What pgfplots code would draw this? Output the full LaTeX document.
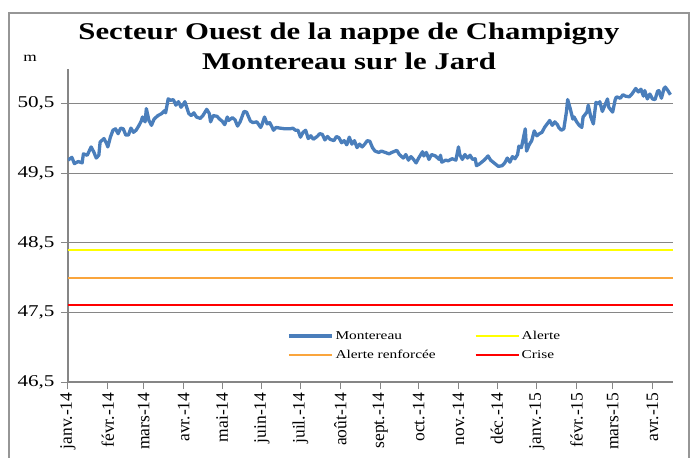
\documentclass[border=0pt]{standalone}
\usepackage{fontspec}
\setmainfont{Liberation Serif}[FakeStretch=1.28]
\newfontfamily\rotfont{Liberation Serif}
\usepackage{pgfplots}
\pgfplotsset{compat=1.18}

\definecolor{montblue}{RGB}{74,126,187}
\definecolor{alerteyellow}{RGB}{255,255,0}
\definecolor{renforcee}{RGB}{250,165,60}
\definecolor{crisered}{RGB}{255,0,0}
\definecolor{gridgray}{RGB}{134,134,134}
\definecolor{framegray}{RGB}{150,150,150}

\begin{document}
\begin{tikzpicture}
% picture box: 692 x 457, axis corner (68,382) in screen pixels
\useasboundingbox (-68pt,-75pt) rectangle (624pt,382pt);
\draw[framegray, line width=1.5pt] (-59pt,-80pt) -- (-59pt,369pt) -- (621pt,369pt) -- (621pt,-80pt);

\begin{axis}[
    scale only axis,
    width=605pt, height=313pt,
    xmin=0, xmax=471,
    ymin=46.5, ymax=51,
    axis x line*=bottom, axis y line*=left,
    axis line style={draw=gridgray, line width=1.2pt},
    ytick={46.5,47.5,48.5,49.5,50.5},
    ymajorgrids,
    major grid style={draw=gridgray, line width=1.1pt},
    tick style={draw=gridgray, line width=1pt},
    major tick length=7pt, tick align=outside,
    xtick={0,31,59,90,120,151,181,212,243,273,304,334,365,396,424,455},
    xticklabels={janv.-14,févr.-14,mars-14,avr.-14,mai-14,juin-14,juil.-14,août-14,sept.-14,oct.-14,nov.-14,déc.-14,janv.-15,févr.-15,mars-15,avr.-15},
    xticklabel style={rotate=90, anchor=east, font=\rotfont\fontsize{17.5}{19}\selectfont},
    yticklabel style={font=\fontsize{16.5}{18}\selectfont, xshift=-3pt},
    /pgf/number format/.cd, use comma, fixed, fixed zerofill, precision=1, assume math mode=true,
    /pgfplots/.cd,
    legend columns=2,
    legend cell align=left,
    legend style={draw=none, fill=none, inner sep=0pt,
        at={(0.362,0.17)}, anchor=north west,
        font=\fontsize{12}{14}\selectfont, row sep=5pt,
        /tikz/every even column/.append style={column sep=37pt}},
    legend image code/.code={\draw[#1] (0pt,0pt) -- (43pt,0pt);},
]
\addplot[montblue, line width=3.3pt, line join=round] coordinates {
(0,49.69) (3,49.73) (5,49.64) (8,49.67) (11,49.65) (12,49.78) (15,49.76) (18,49.88)
(20,49.81) (22,49.72) (24,49.76) (25,49.95) (28,50.00) (30,49.93) (31,49.88) (33,50.02)
(35,50.12) (37,50.14) (39,50.07) (41,50.15) (43,50.14) (45,50.05) (47,50.05) (49,50.15)
(51,50.09) (53,50.12) (55,50.18) (57,50.25) (58,50.31) (60,50.24) (61,50.43) (63,50.26)
(65,50.19) (67,50.28) (70,50.33) (73,50.36) (75,50.40) (76,50.37) (78,50.57) (80,50.55)
(82,50.56) (84,50.48) (86,50.53) (88,50.45) (90,50.50) (91,50.53) (94,50.36) (96,50.33)
(98,50.37) (100,50.31) (103,50.29) (105,50.33) (108,50.42) (110,50.36) (111,50.24) (113,50.33)
(116,50.32) (118,50.28) (120,50.25) (122,50.20) (124,50.31) (125,50.26) (128,50.30) (130,50.27)
(132,50.18) (134,50.24) (137,50.39) (139,50.38) (142,50.25) (144,50.23) (147,50.24) (150,50.16)
(151,50.20) (153,50.31) (155,50.21) (157,50.23) (159,50.16) (160,50.12) (162,50.16) (165,50.15)
(169,50.14) (173,50.14) (175,50.15) (177,50.12) (179,50.12) (181,50.02) (183,50.09) (185,50.12)
(187,50.00) (189,50.04) (191,49.99) (194,50.03) (196,50.07) (198,50.06) (200,49.98) (202,50.03)
(204,49.99) (207,49.97) (209,50.03) (211,50.01) (213,49.94) (215,49.97) (217,49.91) (219,50.02)
(221,49.92) (223,49.97) (225,49.87) (227,49.92) (229,49.88) (231,49.92) (233,49.97) (235,49.96)
(237,49.87) (239,49.82) (242,49.80) (244,49.82) (247,49.80) (250,49.78) (252,49.80) (256,49.83)
(258,49.77) (261,49.72) (263,49.77) (265,49.69) (267,49.74) (269,49.70) (271,49.65) (273,49.72)
(276,49.81) (277,49.75) (279,49.80) (281,49.70) (283,49.77) (286,49.75) (289,49.70) (290,49.76)
(291,49.66) (294,49.69) (296,49.68) (299,49.71) (302,49.69) (304,49.88) (305,49.77) (307,49.70)
(309,49.77) (311,49.72) (313,49.76) (315,49.70) (317,49.71) (318,49.61) (320,49.63) (322,49.66)
(324,49.69) (327,49.75) (329,49.69) (331,49.66) (333,49.63) (335,49.60) (338,49.61) (340,49.65)
(342,49.72) (344,49.66) (346,49.74) (348,49.71) (350,49.77) (351,49.89) (353,49.87) (356,50.14)
(357,49.82) (359,49.91) (361,49.97) (363,50.11) (365,50.04) (367,50.07) (369,50.09) (371,50.16)
(373,50.21) (375,50.26) (377,50.19) (379,50.24) (381,50.20) (382,50.16) (384,50.12) (386,50.14)
(388,50.38) (389,50.56) (391,50.43) (393,50.28) (394,50.31) (396,50.24) (398,50.19) (400,50.16)
(401,50.31) (404,50.38) (405,50.48) (407,50.31) (409,50.21) (411,50.52) (413,50.50) (414,50.53)
(416,50.39) (418,50.48) (420,50.57) (421,50.45) (424,50.38) (426,50.56) (427,50.60) (430,50.58)
(432,50.63) (434,50.61) (437,50.60) (439,50.64) (442,50.72) (444,50.67) (446,50.71) (448,50.61)
(449,50.69) (451,50.57) (453,50.64) (455,50.57) (457,50.56) (459,50.68) (460,50.69) (462,50.58)
(464,50.72) (465,50.74) (467,50.69) (469,50.63)
};
\addlegendentry{Montereau}
\addplot[draw=alerteyellow, line width=1.8pt] coordinates {(0,48.4) (471,48.4)};
\addlegendentry{Alerte}
\addplot[draw=renforcee, line width=1.8pt] coordinates {(0,48.0) (471,48.0)};
\addlegendentry{Alerte renforcée}
\addplot[draw=crisered, line width=2pt] coordinates {(0,47.6) (471,47.6)};
\addlegendentry{Crise}
\end{axis}

\node[anchor=base, font=\bfseries\fontsize{24}{28}\selectfont] at (281pt,342pt) {Secteur Ouest de la nappe de Champigny};
\node[anchor=base, font=\bfseries\fontsize{24}{28}\selectfont] at (281pt,312pt) {Montereau sur le Jard};
\node[anchor=base, font=\fontsize{13.5}{15}\selectfont] at (-38pt,320pt) {m};
\end{tikzpicture}
\end{document}
